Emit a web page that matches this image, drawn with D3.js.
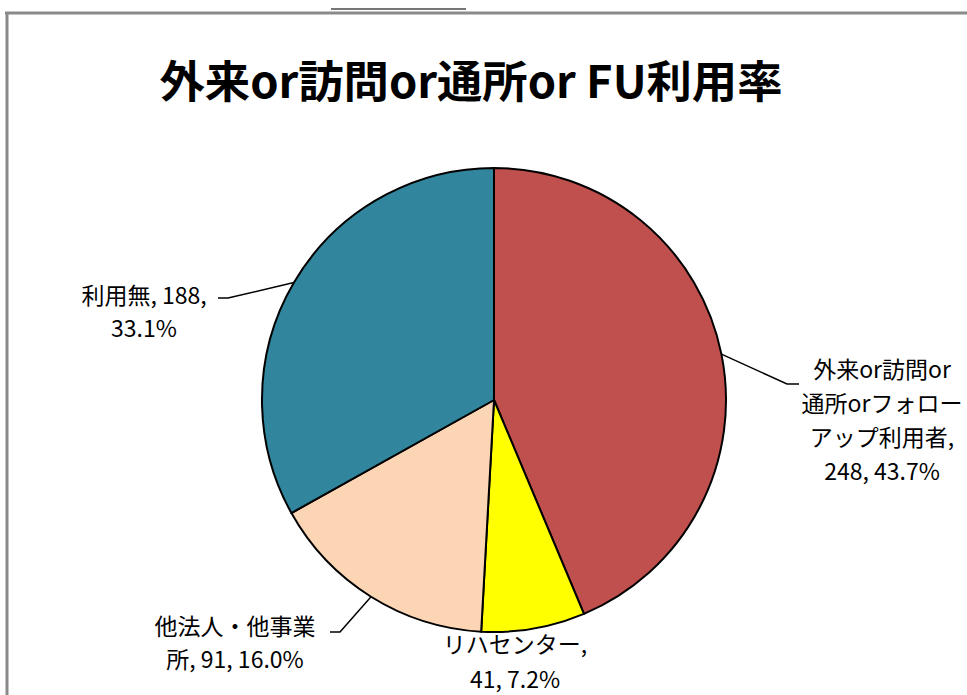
<!DOCTYPE html>
<html><head><meta charset="utf-8">
<script src="https://cdn.jsdelivr.net/npm/d3@7"></script>
<style>body{margin:0;background:#fff}svg{display:block}</style>
</head><body>
<script>
const categories = ["外来or訪問or通所orフォローアップ利用者", "リハセンター", "他法人・他事業所", "利用無"];
const values = [248, 41, 91, 188];
const percents = ["43.7%", "7.2%", "16.0%", "33.1%"];
const colors = ["#C0504D", "#FFFF00", "#FCD5B5", "#31859C"];
const labelLines = [
  ["外来or訪問or", "通所orフォロー", "アップ利用者,", "248, 43.7%"],
  ["リハセンター,", "41, 7.2%"],
  ["他法人・他事業", "所, 91, 16.0%"],
  ["利用無, 188,", "33.1%"]
];
const title = "外来or訪問or通所or FU利用率";

const W = 967, H = 695;
const svg = d3.select("body").append("svg").attr("width", W).attr("height", H);
const font = "'Noto Sans CJK JP', 'Noto Sans', sans-serif";

// frame
svg.append("line").attr("x1", 5).attr("x2", W).attr("y1", 13).attr("y2", 13).attr("stroke", "#8a8a8a").attr("stroke-width", 3);
svg.append("line").attr("x1", 7).attr("x2", 7).attr("y1", 12).attr("y2", H).attr("stroke", "#8a8a8a").attr("stroke-width", 3);
svg.append("line").attr("x1", 331).attr("x2", 466).attr("y1", 9).attr("y2", 9).attr("stroke", "#777").attr("stroke-width", 2);

svg.append("text").attr("x", 471).attr("y", 98).attr("text-anchor", "middle")
  .attr("font-family", font).attr("font-weight", "bold").attr("font-size", 44).attr("fill", "#000")
  .attr("textLength", 623).attr("lengthAdjust", "spacingAndGlyphs").text(title);

const cx = 494, cy = 400, r = 232;
const pie = d3.pie().sort(null).value(d => d)(values);
const arc = d3.arc().innerRadius(0).outerRadius(r);
const edge = d3.arc().innerRadius(r).outerRadius(r);
const g = svg.append("g").attr("transform", `translate(${cx},${cy})`);
g.selectAll("path").data(pie).join("path").attr("d", arc)
  .attr("fill", (d, i) => colors[i]).attr("stroke", "#000").attr("stroke-width", 2).attr("stroke-linejoin", "round");

const labelCfg = [
  {dx: 388, dy: -22, lh: 34, elbow: [293, -16], end: [305, -16]},
  {dx: 21, dy: 253, lh: 35, elbow: null},
  {dx: -259, dy: 235, lh: 33, elbow: [-154, 232], end: [-164, 232]},
  {dx: -350, dy: -96, lh: 33, elbow: [-266, -102], end: [-276, -102]}
];
pie.forEach((d, i) => {
  const c = labelCfg[i];
  const p = edge.centroid(d);
  if (c.elbow) {
    g.append("polyline").attr("points", [p, c.elbow, c.end].map(q => q.join(",")).join(" "))
      .attr("fill", "none").attr("stroke", "#000").attr("stroke-width", 1.5);
  }
  const t = g.append("text").attr("font-family", font).attr("font-size", 23).attr("fill", "#000").attr("text-anchor", "middle");
  labelLines[i].forEach((s, k) => {
    t.append("tspan").attr("x", c.dx).attr("y", c.dy + k * c.lh).text(s);
  });
});
</script>
</body></html>
